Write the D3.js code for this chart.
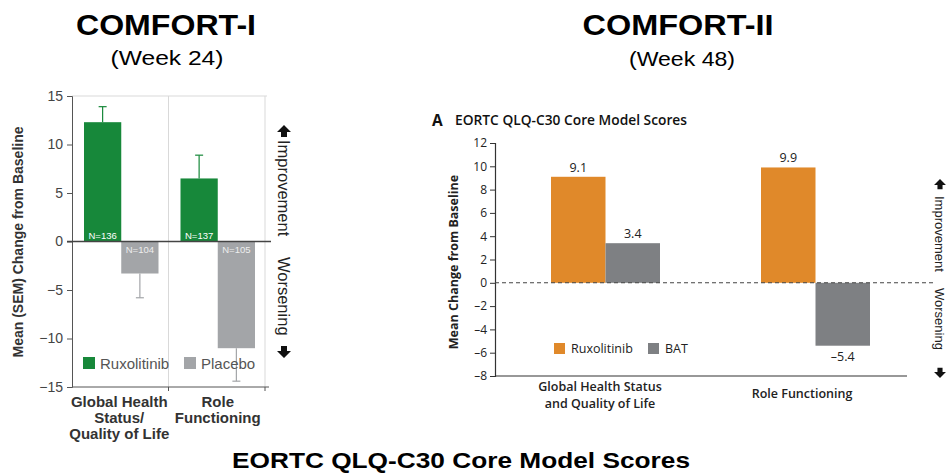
<!DOCTYPE html>
<html>
<head>
<meta charset="utf-8">
<script src="https://cdn.jsdelivr.net/npm/d3@7"></script>
<style>
  html, body { margin: 0; padding: 0; background: #fff; }
  svg { display: block; }
</style>
</head>
<body>
<svg id="chart" width="948" height="473"></svg>
<script>
// COMFORT-I (week 24): mean (SEM) change from baseline
const categoriesI = ["Global Health Status/ Quality of Life", "Role Functioning"];
const categoryLinesI = [["Global Health", "Status/", "Quality of Life"], ["Role", "Functioning"]];
const seriesI = ["Ruxolitinib", "Placebo"];
const ruxI = [12.3, 6.5];
const ruxSemI = [1.6, 2.4];
const placeboI = [-3.3, -11.0];
const placeboSemI = [2.5, 3.4];
const nRuxI = [136, 137];
const nPlaceboI = [104, 105];
const ticksI = [-15, -10, -5, 0, 5, 10, 15];

// COMFORT-II (week 48): mean change from baseline
const categoriesII = ["Global Health Status and Quality of Life", "Role Functioning"];
const categoryLinesII = [["Global Health Status", "and Quality of Life"], ["Role Functioning"]];
const seriesII = ["Ruxolitinib", "BAT"];
const ruxII = [9.1, 9.9];
const batII = [3.4, -5.4];
const ticksII = [-8, -6, -4, -2, 0, 2, 4, 6, 8, 10, 12];

const svg = d3.select("#chart");
const minus = v => (v < 0 ? "\u2212" + Math.abs(v) : String(v));

// ---------- headings ----------
const arial = "'Liberation Sans', Arial, sans-serif";
function heading(x, y, size, bold, width, str) {
  svg.append("text").attr("x", x - width / 2).attr("y", y)
    .attr("font-family", arial).attr("font-weight", bold ? "bold" : "normal").attr("font-size", size)
    .attr("textLength", width).attr("lengthAdjust", "spacingAndGlyphs").text(str);
}
heading(166, 35, 29, true, 180, "COMFORT-I");
heading(167, 65, 20, false, 113, "(Week 24)");
heading(678, 35, 29, true, 191, "COMFORT-II");
heading(682, 66, 20, false, 106, "(Week 48)");
heading(461, 468, 21.5, true, 458, "EORTC QLQ-C30 Core Model Scores");

// direction markers (rotated text with arrows)
function arrow(g, cx, tipY, dir, s) {
  const hw = 7 * s, sw = 3 * s, hh = 7 * s, len = 12 * s;
  const p = [[0, 0], [hw, hh], [sw, hh], [sw, len], [-sw, len], [-sw, hh], [-hw, hh]];
  g.append("path").attr("fill", "#111")
    .attr("d", "M" + p.map(([dx, dy]) => `${cx + dx},${tipY + dir * dy}`).join("L") + "Z");
}
function direction(g, cx, yUpArrow, yImpStart, yWorStart, yDownArrow, fs, s) {
  g.append("text").attr("font-family", arial).attr("font-size", fs).attr("fill", "#222")
    .attr("transform", `translate(${cx - fs * 0.36},${yImpStart}) rotate(90)`).text("Improvement");
  g.append("text").attr("font-family", arial).attr("font-size", fs).attr("fill", "#222")
    .attr("transform", `translate(${cx - fs * 0.36},${yWorStart}) rotate(90)`).text("Worsening");
  arrow(g, cx, yUpArrow, 1, s);
  arrow(g, cx, yDownArrow, -1, s);
}

// ---------- COMFORT-I panel ----------
(function () {
  const left = 72, right = 265, top = 96, bottom = 387;
  const g = svg.append("g");
  const y = d3.scaleLinear().domain([-15, 15]).range([bottom, top]);
  const x0 = d3.scaleBand().domain(categoriesI).range([left, right]);
  const x1 = d3.scaleBand().domain(seriesI).range([12, x0.bandwidth() - 10]);
  const green = "#17883a", grey = "#a3a5a8";

  // frame
  g.append("line").attr("x1", left).attr("x2", right + 2).attr("y1", top).attr("y2", top)
    .attr("stroke", "#d9d9d9").attr("stroke-width", 1);
  g.append("line").attr("x1", right).attr("x2", right).attr("y1", top).attr("y2", bottom)
    .attr("stroke", "#d9d9d9").attr("stroke-width", 1);
  g.append("line").attr("x1", x0(categoriesI[1])).attr("x2", x0(categoriesI[1])).attr("y1", top).attr("y2", bottom)
    .attr("stroke", "#d9d9d9").attr("stroke-width", 1);

  // y axis
  const yAxis = d3.axisLeft(y).tickValues(ticksI).tickSize(5).tickPadding(4).tickFormat(minus);
  const ya = g.append("g").attr("transform", `translate(${left},0)`).call(yAxis);
  ya.select(".domain").attr("stroke", "#555");
  ya.selectAll(".tick line").attr("stroke", "#555");
  ya.selectAll("text").attr("font-family", arial).attr("font-size", 14).attr("fill", "#444");

  // bottom axis
  g.append("line").attr("x1", left).attr("x2", right + 4).attr("y1", bottom).attr("y2", bottom)
    .attr("stroke", "#555");
  [x0(categoriesI[1]), right].forEach(v => {
    g.append("line").attr("x1", v).attr("x2", v).attr("y1", bottom).attr("y2", bottom + 4).attr("stroke", "#555");
  });

  // bars
  const rows = categoriesI.map((c, i) => ({ c, i }));
  g.selectAll(".rux").data(rows).join("rect")
    .attr("x", d => x0(d.c) + x1("Ruxolitinib")).attr("width", x1.bandwidth())
    .attr("y", d => y(ruxI[d.i])).attr("height", d => y(0) - y(ruxI[d.i])).attr("fill", green);
  g.selectAll(".pbo").data(rows).join("rect")
    .attr("x", d => x0(d.c) + x1("Placebo")).attr("width", x1.bandwidth())
    .attr("y", y(0)).attr("height", d => y(placeboI[d.i]) - y(0)).attr("fill", grey);

  // error bars
  rows.forEach(d => {
    const cx = x0(d.c) + x1("Ruxolitinib") + x1.bandwidth() / 2;
    const yt = y(ruxI[d.i] + ruxSemI[d.i]);
    g.append("line").attr("x1", cx).attr("x2", cx).attr("y1", y(ruxI[d.i])).attr("y2", yt).attr("stroke", green).attr("stroke-width", 1.2);
    g.append("line").attr("x1", cx - 4).attr("x2", cx + 4).attr("y1", yt).attr("y2", yt).attr("stroke", green).attr("stroke-width", 1.2);
    const px = x0(d.c) + x1("Placebo") + x1.bandwidth() / 2;
    const yb = y(placeboI[d.i] - placeboSemI[d.i]);
    g.append("line").attr("x1", px).attr("x2", px).attr("y1", y(placeboI[d.i])).attr("y2", yb).attr("stroke", grey).attr("stroke-width", 1.2);
    g.append("line").attr("x1", px - 4).attr("x2", px + 4).attr("y1", yb).attr("y2", yb).attr("stroke", grey).attr("stroke-width", 1.2);
  });

  // zero line
  g.append("line").attr("x1", left - 5).attr("x2", right + 6).attr("y1", y(0)).attr("y2", y(0))
    .attr("stroke", "#444").attr("stroke-width", 1.3);

  // N labels
  rows.forEach(d => {
    g.append("text").attr("x", x0(d.c) + x1("Ruxolitinib") + x1.bandwidth() / 2).attr("y", y(0) - 3)
      .attr("text-anchor", "middle").attr("font-family", arial).attr("font-size", 9.5).attr("fill", "#fff")
      .text("N=" + nRuxI[d.i]);
    g.append("text").attr("x", x0(d.c) + x1("Placebo") + x1.bandwidth() / 2).attr("y", y(0) + 11)
      .attr("text-anchor", "middle").attr("font-family", arial).attr("font-size", 9.5).attr("fill", "#eee")
      .text("N=" + nPlaceboI[d.i]);
  });

  // category labels
  rows.forEach(d => {
    const t = g.append("text").attr("text-anchor", "middle").attr("font-family", arial)
      .attr("font-weight", "bold").attr("font-size", 15).attr("fill", "#333");
    categoryLinesI[d.i].forEach((line, k) => {
      t.append("tspan").attr("x", x0(d.c) + x0.bandwidth() / 2 + (d.i === 1 ? 1 : -1)).attr("y", 407 + k * 16).text(line);
    });
  });

  // legend
  const legend = [{ s: seriesI[0], c: green, x: 83 }, { s: seriesI[1], c: grey, x: 184 }];
  legend.forEach(l => {
    g.append("rect").attr("x", l.x).attr("y", 357).attr("width", 12).attr("height", 12).attr("fill", l.c);
    g.append("text").attr("x", l.x + 17).attr("y", 369).attr("font-family", arial).attr("font-size", 15)
      .attr("fill", "#555").text(l.s);
  });

  // axis title
  g.append("text").attr("transform", `translate(23,242) rotate(-90)`).attr("text-anchor", "middle")
    .attr("font-family", arial).attr("font-weight", "bold").attr("font-size", 14).attr("fill", "#333")
    .text("Mean (SEM) Change from Baseline");

  direction(g, 284, 125, 140, 257, 358, 16.5, 1);
})();

// ---------- COMFORT-II panel ----------
(function () {
  const sans = "'Open Sans', 'Noto Sans', sans-serif";
  const axisX = 495, top = 143, bottom = 376;
  const g = svg.append("g");
  const y = d3.scaleLinear().domain([-8, 12]).range([bottom, top]);
  const x0 = d3.scaleBand().domain(categoriesII).range([500, 920]);
  const x1 = d3.scaleBand().domain(seriesII).range([51, 160]);
  const orange = "#e0892a", grey = "#7e8083";

  // panel title
  g.append("text").attr("x", 432).attr("y", 126).attr("font-family", sans).attr("font-weight", 700)
    .attr("font-size", 15.5).attr("fill", "#111").text("A");
  g.append("text").attr("x", 455).attr("y", 125).attr("font-family", sans).attr("font-weight", 600)
    .attr("font-size", 13.5).attr("fill", "#111")
    .attr("textLength", 232).attr("lengthAdjust", "spacingAndGlyphs").text("EORTC QLQ-C30 Core Model Scores");

  // y axis
  const yAxis = d3.axisLeft(y).tickValues(ticksII).tickSize(5).tickPadding(3)
    .tickFormat(v => (v < 0 ? "\u2013" + Math.abs(v) : String(v)));
  const ya = g.append("g").attr("transform", `translate(${axisX},0)`).call(yAxis);
  ya.select(".domain").attr("stroke", "#333").attr("stroke-width", 1.2);
  ya.selectAll(".tick line").attr("stroke", "#333");
  ya.selectAll("text").attr("font-family", sans).attr("font-size", 12).attr("fill", "#222");

  // bottom axis line
  g.append("line").attr("x1", axisX).attr("x2", 907).attr("y1", bottom).attr("y2", bottom)
    .attr("stroke", "#333").attr("stroke-width", 1.2);

  const rows = categoriesII.map((c, i) => ({ c, i, rux: ruxII[i], bat: batII[i] }));
  const barY = v => Math.min(y(v), y(0));
  const barH = v => Math.abs(y(v) - y(0));
  g.selectAll(".rux2").data(rows).join("rect")
    .attr("x", d => x0(d.c) + x1("Ruxolitinib")).attr("width", x1.bandwidth())
    .attr("y", d => barY(d.rux)).attr("height", d => barH(d.rux)).attr("fill", orange);
  g.selectAll(".bat2").data(rows).join("rect")
    .attr("x", d => x0(d.c) + x1("BAT")).attr("width", x1.bandwidth())
    .attr("y", d => barY(d.bat)).attr("height", d => barH(d.bat)).attr("fill", grey);

  // value labels
  rows.forEach(d => {
    [["Ruxolitinib", d.rux], ["BAT", d.bat]].forEach(([s, v]) => {
      g.append("text").attr("x", x0(d.c) + x1(s) + x1.bandwidth() / 2)
        .attr("y", v >= 0 ? y(v) - 5 : y(v) + 15).attr("text-anchor", "middle")
        .attr("font-family", sans).attr("font-size", 12.5).attr("fill", "#222")
        .text(v < 0 ? "\u2013" + Math.abs(v).toFixed(1) : v.toFixed(1));
    });
  });

  // dashed zero line
  g.append("line").attr("x1", axisX).attr("x2", 933).attr("y1", y(0)).attr("y2", y(0))
    .attr("stroke", "#444").attr("stroke-width", 1.1).attr("stroke-dasharray", "4,3");

  // category labels
  const labelShift = [-5, -13];
  rows.forEach(d => {
    const lines = categoryLinesII[d.i];
    const t = g.append("text").attr("text-anchor", "middle").attr("font-family", sans)
      .attr("font-weight", 600).attr("font-size", 12.5).attr("fill", "#222");
    lines.forEach((line, k) => {
      t.append("tspan").attr("x", x0(d.c) + x0.bandwidth() / 2 + labelShift[d.i])
        .attr("y", (lines.length > 1 ? 391 : 398) + k * 17).text(line);
    });
  });

  // legend
  const legend = [{ s: seriesII[0], c: orange, x: 554 }, { s: seriesII[1], c: grey, x: 648 }];
  legend.forEach(l => {
    g.append("rect").attr("x", l.x).attr("y", 343).attr("width", 11).attr("height", 11).attr("fill", l.c);
    g.append("text").attr("x", l.x + 17).attr("y", 353).attr("font-family", sans).attr("font-size", 12.5)
      .attr("fill", "#222").text(l.s);
  });

  // axis title
  g.append("text").attr("transform", `translate(458,262) rotate(-90)`).attr("text-anchor", "middle")
    .attr("font-family", sans).attr("font-weight", 700).attr("font-size", 12.5).attr("fill", "#222")
    .text("Mean Change from Baseline");

  direction(g, 940, 179, 196, 288, 378, 13, 0.85);
})();
</script>
</body>
</html>
